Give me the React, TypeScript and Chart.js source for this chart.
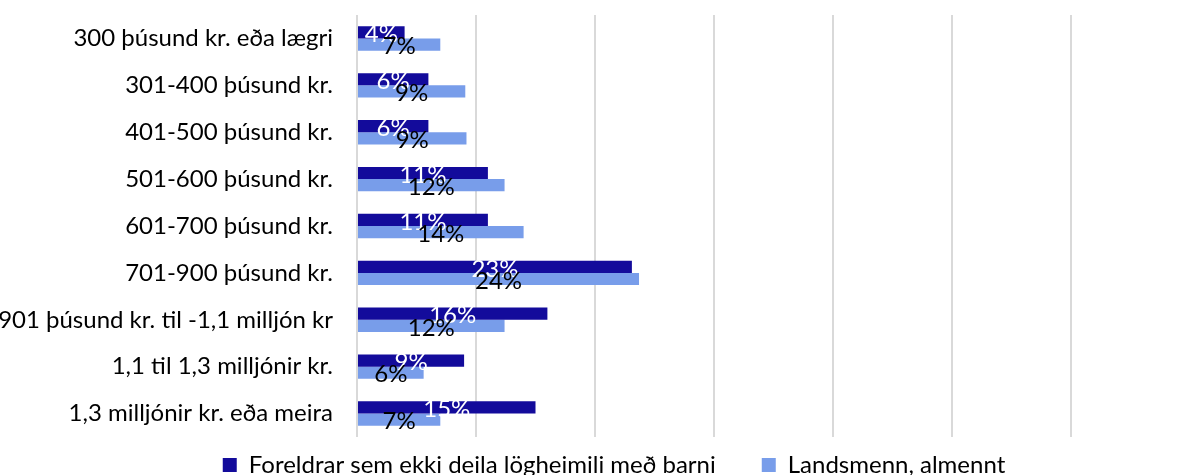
import React, { useEffect, useRef } from "react";
import { Chart, registerables } from "chart.js";

Chart.register(...registerables);

const categories = [
  "300 þúsund kr. eða lægri",
  "301-400 þúsund kr.",
  "401-500 þúsund kr.",
  "501-600 þúsund kr.",
  "601-700 þúsund kr.",
  "701-900 þúsund kr.",
  "901 þúsund kr. til -1,1 milljón kr",
  "1,1 til 1,3 milljónir kr.",
  "1,3 milljónir kr. eða meira",
];

const seriesNames = ["Foreldrar sem ekki deila lögheimili með barni", "Landsmenn, almennt"];

const parentsValues = [4.0, 6.0, 6.0, 11.0, 11.0, 23.1, 16.0, 9.0, 15.0];
const generalValues = [7.0, 9.1, 9.2, 12.4, 14.0, 23.7, 12.4, 5.6, 7.0];

const FONT = "Lato";

const labelPlugin = {
  id: "barLabels",
  afterLayout(chart: any) {
    if (chart.legend) {
      chart.legend.left = 41;
      chart.legend.right = 1187;
    }
  },
  afterDatasetsDraw(chart: any) {
    const ctx = chart.ctx;
    ctx.save();
    ctx.font = `24px ${FONT}`;
    ctx.textAlign = "center";
    ctx.textBaseline = "middle";
    chart.data.datasets.forEach((ds: any, di: number) => {
      const meta = chart.getDatasetMeta(di);
      ctx.fillStyle = di === 0 ? "#ffffff" : "#000000";
      meta.data.forEach((bar: any, i: number) => {
        const v = ds.data[i];
        const cx = (bar.x + bar.base) / 2;
        ctx.fillText(Math.round(v) + "%", cx, bar.y + 2);
      });
    });
    ctx.restore();
  },
};

export default function App() {
  const ref = useRef<HTMLCanvasElement>(null);
  useEffect(() => {
    document.body.style.margin = "0";
    const chart = new Chart(ref.current!, {
      type: "bar",
      data: {
        labels: categories,
        datasets: [
          {
            label: seriesNames[0],
            data: parentsValues,
            backgroundColor: "#130b9b",
            categoryPercentage: 0.52,
            barPercentage: 1,
          },
          {
            label: seriesNames[1],
            data: generalValues,
            backgroundColor: "#789dea",
            categoryPercentage: 0.52,
            barPercentage: 1,
          },
        ],
      },
      options: {
        indexAxis: "y",
        animation: false,
        responsive: false,
        maintainAspectRatio: false,
        layout: { padding: { top: 15, left: 0, right: 116, bottom: -12 } },
        scales: {
          x: {
            min: 0,
            max: 60,
            ticks: { display: false, stepSize: 10 },
            grid: { color: "#d9d9d9", lineWidth: 2, drawTicks: false },
            border: { display: false },
            afterFit: (s: any) => {
              s.height = 6;
              s.paddingLeft = 0;
              s.paddingRight = 0;
            },
          },
          y: {
            ticks: { color: "#000", font: { family: FONT, size: 24 }, padding: 24 },
            grid: { display: false, drawTicks: false },
            border: { display: false },
            afterFit: (s: any) => {
              s.width = 357;
              s.paddingTop = 0;
              s.paddingBottom = 0;
            },
          },
        },
        plugins: {
          legend: {
            position: "bottom",
            labels: {
              color: "#000",
              font: { family: FONT, size: 24 },
              boxWidth: 14,
              boxHeight: 14,
              padding: 10,
              generateLabels: (chart: any) => {
                const items = Chart.defaults.plugins.legend.labels.generateLabels(chart);
                return items.map((it: any, i: number) => ({
                  ...it,
                  lineWidth: 0,
                  text: i === 0 ? it.text + "\u2003\u2003" : it.text,
                }));
              },
            },
          },
          tooltip: { enabled: false },
        },
      },
      plugins: [labelPlugin],
    });
    return () => chart.destroy();
  }, []);
  return (
    <div style={{ width: 1187, height: 475 }}>
      <canvas ref={ref} width={1187} height={475} />
    </div>
  );
}
